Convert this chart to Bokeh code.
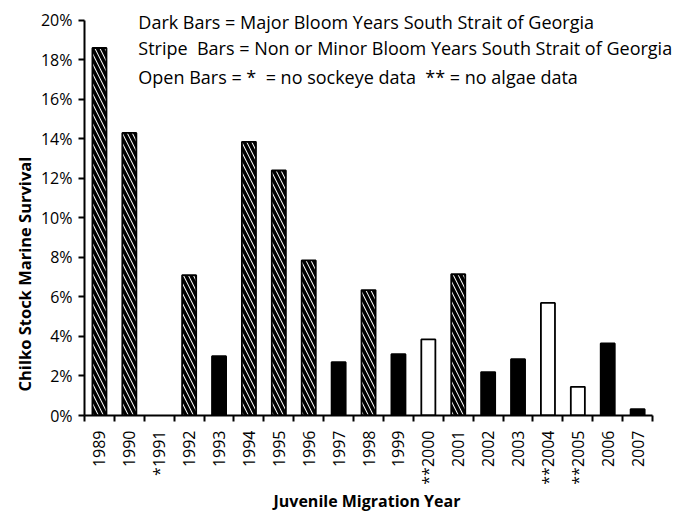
import math
from bokeh.plotting import figure
from bokeh.models import Range1d, FixedTicker, PrintfTickFormatter, Label, ColumnDataSource, Title
from bokeh.embed import file_html
from bokeh.resources import INLINE

years = ["1989", "1990", "1991", "1992", "1993", "1994", "1995", "1996", "1997", "1998",
         "1999", "2000", "2001", "2002", "2003", "2004", "2005", "2006", "2007"]
tick_labels = ["1989", "1990", "*1991", "1992", "1993", "1994", "1995", "1996", "1997", "1998",
               "1999", "**2000", "2001", "2002", "2003", "**2004", "**2005", "2006", "2007"]
survival = [18.6, 14.3, 0.0, 7.1, 3.0, 13.85, 12.4, 7.85, 2.7, 6.35,
            3.1, 3.85, 7.15, 2.2, 2.85, 5.7, 1.45, 3.65, 0.32]
bar_type = ["stripe", "stripe", "none", "stripe", "dark", "stripe", "stripe", "stripe", "dark", "stripe",
            "dark", "open", "stripe", "dark", "dark", "open", "open", "dark", "dark"]
legend_lines = [
    "Dark Bars = Major Bloom Years South Strait of Georgia",
    "Stripe \u00a0Bars = Non or Minor Bloom Years South Strait of Georgia",
    "Open Bars = * \u00a0= no sockeye data \u00a0** = no algae data",
]
y_ticks = [0, 2, 4, 6, 8, 10, 12, 14, 16, 18, 20]
y_max = 20
x_title = "Juvenile Migration Year"
y_title = "Chilko Stock Marine Survival"

FONT = "Open Sans"
n = len(years)
centers = [i + 0.5 for i in range(n)]

# frame spans a bit beyond the axes so the overlaid legend text is not clipped
p = figure(width=679, height=511, output_backend="svg", toolbar_location=None,
           x_range=Range1d(0, n + 0.9), y_range=Range1d(0, y_max + 0.6))
p.min_border_left = 84
p.min_border_right = 0
p.min_border_top = 8
p.min_border_bottom = 95
p.outline_line_color = None
p.grid.visible = False
p.background_fill_color = "white"

def src(kind):
    idx = [i for i in range(n) if bar_type[i] == kind]
    return ColumnDataSource(dict(x=[centers[i] for i in idx], top=[survival[i] for i in idx]))

W = 0.47
p.vbar(x="x", top="top", width=W, source=src("stripe"), fill_color="white",
       hatch_pattern="\\", hatch_color="black", hatch_scale=10, hatch_weight=3.5,
       line_color="black", line_width=1.8)
p.vbar(x="x", top="top", width=W, source=src("dark"), fill_color="black",
       line_color="black", line_width=1.8)
p.vbar(x="x", top="top", width=W, source=src("open"), fill_color="white",
       line_color="black", line_width=1.8)

# x axis
xa = p.xaxis[0]
xa.bounds = (0, n)
xa.ticker = FixedTicker(ticks=centers, minor_ticks=list(range(n + 1)))
xa.major_label_overrides = {c: lab for c, lab in zip(centers, tick_labels)}
xa.major_label_orientation = math.pi / 2
xa.major_tick_out = 0
xa.major_tick_in = 0
xa.minor_tick_out = 6
xa.minor_tick_in = 0
xa.minor_tick_line_color = "black"
xa.minor_tick_line_width = 2
xa.axis_line_width = 2
xa.axis_line_color = "black"
xa.major_label_text_font = FONT
xa.major_label_text_font_size = "16px"
xa.major_label_text_color = "black"
xa.major_label_standoff = 9

p.add_layout(Title(text=x_title, text_font=FONT, text_font_size="16px",
                   text_font_style="bold", text_color="black", align="left",
                   offset=189, standoff=0), "below")

ya = p.yaxis[0]
ya.bounds = (0, y_max)
ya.ticker = FixedTicker(ticks=y_ticks)
ya.formatter = PrintfTickFormatter(format="%d%%")
ya.major_tick_out = 6
ya.major_tick_in = 0
ya.minor_tick_line_color = None
ya.major_tick_line_width = 2
ya.axis_line_width = 2
ya.axis_line_color = "black"
ya.major_label_text_font = FONT
ya.major_label_text_font_size = "16px"
ya.major_label_text_color = "black"
ya.major_label_standoff = 6

p.add_layout(Title(text=y_title, text_font=FONT, text_font_size="16.5px",
                   text_font_style="bold", text_color="black", align="left",
                   offset=24, standoff=4), "left")

for line, yv in zip(legend_lines, [19.9, 18.59, 17.12]):
    p.add_layout(Label(x=1.8, y=yv, text=line, text_font=FONT, text_font_size="18px",
                       text_color="black", text_baseline="middle", text_align="left"))

open("out.html", "w").write(file_html(p, INLINE))
